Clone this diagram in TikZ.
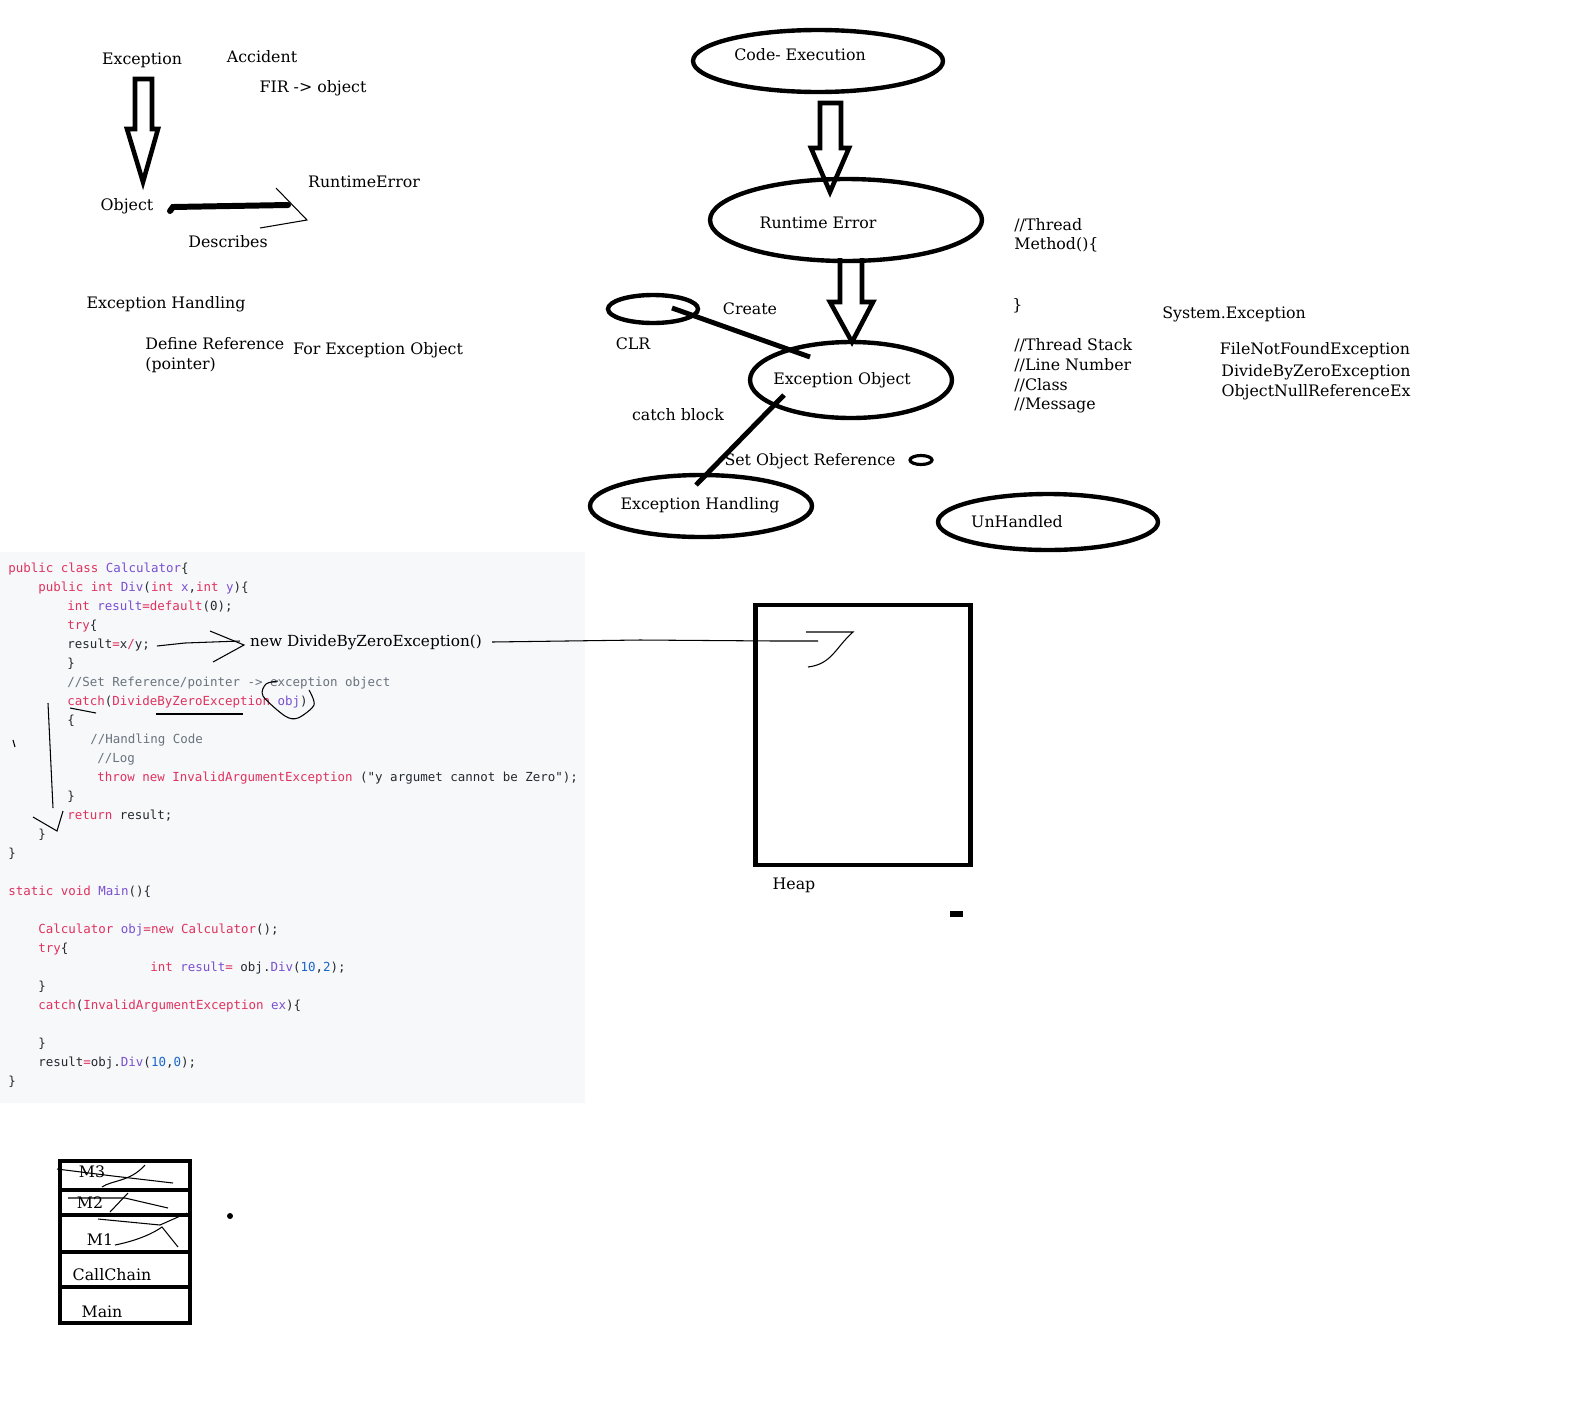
\documentclass[tikz,border=0pt]{standalone}
\usepackage{fontspec}
\setmainfont{DejaVu Serif}
\newfontfamily\codefont{DejaVu Sans Mono}
\usetikzlibrary{positioning, calc, shapes.geometric}
\definecolor{Ink}{HTML}{000000}
\definecolor{CodeBg}{HTML}{F6F8FA}
\definecolor{CodeTxt}{HTML}{24292E}
\definecolor{CodeKey}{HTML}{E0325F}
\definecolor{CodeEnt}{HTML}{7A4FD0}
\definecolor{CodeNum}{HTML}{1A66CC}
\definecolor{CodeCmt}{HTML}{6A737D}
\newcommand{\codekw}[1]{\textcolor{CodeKey}{#1}}
\newcommand{\codeent}[1]{\textcolor{CodeEnt}{#1}}
\newcommand{\codenum}[1]{\textcolor{CodeNum}{#1}}
\newcommand{\codecmt}[1]{\textcolor{CodeCmt}{#1}}
\tikzset{
    sketch/.style={font=\fontsize{9}{11}\selectfont, text=Ink, inner sep=0pt, yshift=-0.04cm},
    codeline/.style={font=\codefont\fontsize{7.1}{8}\selectfont, text=CodeTxt, inner sep=0pt, anchor=base west},
    bubble/.style={ellipse, draw=Ink, line width=2.5pt, inner sep=0pt},
    hollow/.style={draw=Ink, line width=2.6pt, line join=miter},
    heavy/.style={draw=Ink, line width=2.8pt},
    pen/.style={draw=Ink, line width=0.6pt},
}

\begin{document}
\begin{tikzpicture}[x=0.02cm, y=-0.02cm]
    \useasboundingbox (0,0) rectangle (1571,1403);
    \fill[white] (0,0) rectangle (1571,1403);

    % top left notes
    \node[sketch] (exc) at (142,58) {Exception};
    \node[sketch] (acc) at (262,55) {Accident};
    \node[sketch] (fir) at (313,86) {FIR -> object};
    \node[sketch] (obj) at (127,204) {Object};
    \node[sketch] (rterrtxt) at (364,180) {RuntimeError};
    \node[sketch] (descr) at (228,240) {Describes};
    \node[sketch] (exhtxt) at (166,302) {Exception Handling};
    \node[sketch, anchor=west] (defref) at (145,342) {Define Reference};
    \node[sketch, anchor=west] (ptr) at (145,363) {(pointer)};
    \node[sketch] (forexc) at (378,348) {For Exception Object};

    \draw[hollow] (135,79) -- (152,79) -- (152,129) -- (158,129) -- (143,182) -- (127,129) -- (135,129) -- cycle;
    \coordinate (descA) at (173,207);
    \coordinate (descB) at (288,205);
    \draw[line width=3.4pt, line cap=round] (170,211) -- (descA) -- (descB);
    \draw[pen] (276,188) -- (307,220) -- (260,228);

    % flow on the right
    \node[bubble, minimum width=5cm, minimum height=1.24cm] (exec) at (818,61) {};
    \node[sketch] (exectxt) at (800,53) {Code- Execution};
    \node[bubble, minimum width=5.44cm, minimum height=1.64cm] (rterr) at (846,220) {};
    \node[sketch] (rterrlbl) at (818,221) {Runtime Error};
    \node[bubble, minimum width=4.04cm, minimum height=1.52cm] (exobj) at (851,380) {};
    \node[sketch] (exobjtxt) at (842,378) {Exception Object};
    \node[bubble, minimum width=1.8cm, minimum height=0.56cm] (clr) at (653,309) {};
    \node[sketch] (clrtxt) at (633,342) {CLR};
    \node[bubble, minimum width=4.44cm, minimum height=1.24cm] (exhand) at (701,506) {};
    \node[sketch] (exhandtxt) at (700,503) {Exception Handling};
    \node[bubble, minimum width=4.4cm, minimum height=1.12cm] (unhand) at (1048,522) {};
    \node[sketch] (unhandtxt) at (1017,520) {UnHandled};
    \node[bubble, line width=1.8pt, minimum width=0.44cm, minimum height=0.18cm] (dot) at (921,460) {};

    \node[sketch] (create) at (750,307) {Create};
    \node[sketch] (catchblk) at (678,413) {catch block};
    \node[sketch] (setref) at (810,459) {Set Object Reference};

    \draw[hollow] (820,103) -- (841,103) -- (841,148) -- (849,148) -- (830,192) -- (811,148) -- (820,148) -- cycle;
    \draw[hollow] (840,258) -- (840,302) -- (830,302) -- (852,342) -- (873,302) -- (862,302) -- (862,258);

    \coordinate (createA) at (672,308);
    \coordinate (createB) at (810,357);
    \draw[heavy] (createA) -- (createB);
    \coordinate (catchA) at (784,395);
    \coordinate (catchB) at (696,485);
    \draw[heavy] (catchA) -- (catchB);

    % side notes
    \node[sketch, anchor=west] (thr) at (1014,223) {//Thread};
    \node[sketch, anchor=west] (meth) at (1014,243) {Method()\{};
    \node[sketch, anchor=west] (methend) at (1012,304) {\}};
    \node[sketch] (sysexc) at (1234,312) {System.Exception};
    \node[sketch, anchor=west] (tstack) at (1014,343) {//Thread Stack};
    \node[sketch, anchor=west] (lineno) at (1014,363) {//Line Number};
    \node[sketch, anchor=west] (cls) at (1014,383) {//Class};
    \node[sketch, anchor=west] (msg) at (1014,403) {//Message};
    \node[sketch] (fnf) at (1315,348) {FileNotFoundException};
    \node[sketch] (dbz) at (1316,370) {DivideByZeroException};
    \node[sketch] (onr) at (1316,390) {ObjectNullReferenceEx};

    % code
    \fill[CodeBg] (0,552) rectangle (585,1103);
    \node[codeline] (code1) at (8,572) {\codekw{public class} \codeent{Calculator}\{};
    \node[codeline] (code2) at (38,591) {\codekw{public int} \codeent{Div}(\codekw{int} \codeent{x},\codekw{int} \codeent{y})\{};
    \node[codeline] (code3) at (67,610) {\codekw{int} \codeent{result}\codekw{=default}(0);};
    \node[codeline] (code4) at (67,629) {\codekw{try}\{};
    \node[codeline] (code5) at (67,648) {result\codekw{=}x\codekw{/}y;};
    \node[codeline] (code6) at (67,667) {\}};
    \node[codeline] (code7) at (67,686) {\codecmt{//Set Reference/pointer -> exception object}};
    \node[codeline] (code8) at (67,705) {\codekw{catch}(\codekw{DivideByZeroException} \codeent{obj})};
    \node[codeline] (code9) at (67,724) {\{};
    \node[codeline] (code10) at (90,743) {\codecmt{//Handling Code}};
    \node[codeline] (code11) at (97,762) {\codecmt{//Log}};
    \node[codeline] (code12) at (97,781) {\codekw{throw new InvalidArgumentException} ("y argumet cannot be Zero");};
    \node[codeline] (code13) at (67,800) {\}};
    \node[codeline] (code14) at (67,819) {\codekw{return} result;};
    \node[codeline] (code15) at (38,838) {\}};
    \node[codeline] (code16) at (8,857) {\}};
    \node[codeline] (code17) at (8,895) {\codekw{static void} \codeent{Main}()\{};
    \node[codeline] (code18) at (38,933) {\codekw{Calculator} \codeent{obj}\codekw{=new Calculator}();};
    \node[codeline] (code19) at (38,952) {\codekw{try}\{};
    \node[codeline] (code20) at (150,971) {\codekw{int} \codeent{result}\codekw{=} obj.\codeent{Div}(\codenum{10},\codenum{2});};
    \node[codeline] (code21) at (38,990) {\}};
    \node[codeline] (code22) at (38,1009) {\codekw{catch}(\codekw{InvalidArgumentException} \codeent{ex})\{};
    \node[codeline] (code23) at (38,1047) {\}};
    \node[codeline] (code24) at (38,1066) {result\codekw{=}obj.\codeent{Div}(\codenum{10},\codenum{0});};
    \node[codeline] (code25) at (8,1085) {\}};

    % scribbles on the code
    \node[sketch, font=\fontsize{8.7}{11}\selectfont] (newdbz) at (366,640) {new DivideByZeroException()};
    \draw[pen] (157,646) -- (185,643) -- (240,641);
    \draw[pen] (210,631) -- (244,645) -- (213,662);
    \draw[pen] plot[smooth] coordinates {(278,681) (266,684) (263,696) (285,716) (298,718) (314,705) (309,690)};
    \draw[pen] (70,708) -- (96,713);
    \draw[pen] (156,714) -- (243,714);
    \draw[pen] (48,703) -- (53,808);
    \draw[pen] (13,740) -- (15,747);
    \draw[pen] (33,817) -- (57,831) -- (63,811);

    % heap
    \node[draw=Ink, line width=2.8pt, minimum width=4.3cm, minimum height=5.2cm, inner sep=0pt] (heap) at (863,735) {};
    \node[sketch] (heaptxt) at (794,883) {Heap};
    \fill[Ink] (950,911) rectangle (963,917);
    \draw[pen] (492,642) -- (640,640) -- (775,641) -- (818,641);
    \draw[pen] (806,632) -- (853,632) .. controls (835,648) and (832,664) .. (808,667);

    % call chain
    \draw[line width=2.8pt] (60,1161) rectangle (190,1323);
    \foreach \y in {1190,1215,1252,1287} \draw[line width=2.6pt] (60,\y) -- (190,\y);
    \node[sketch] (m3) at (92,1170) {M3};
    \node[sketch] (m2) at (90,1201) {M2};
    \node[sketch] (m1) at (100,1238) {M1};
    \node[sketch] (callchain) at (112,1273) {CallChain};
    \node[sketch] (mainfr) at (102,1310) {Main};
    \draw[pen] (57,1169) -- (113,1176) -- (173,1183);
    \draw[pen] (145,1165) .. controls (130,1182) and (112,1180) .. (102,1187);
    \draw[pen] (68,1198) -- (125,1198) -- (168,1208);
    \draw[pen] (128,1193) -- (110,1212);
    \draw[pen] (98,1219) -- (160,1225) -- (187,1213);
    \draw[pen] (115,1245) .. controls (140,1240) and (155,1232) .. (162,1227) -- (178,1247);
    \fill[Ink] (230,1216) circle (3);
\end{tikzpicture}
\end{document}
